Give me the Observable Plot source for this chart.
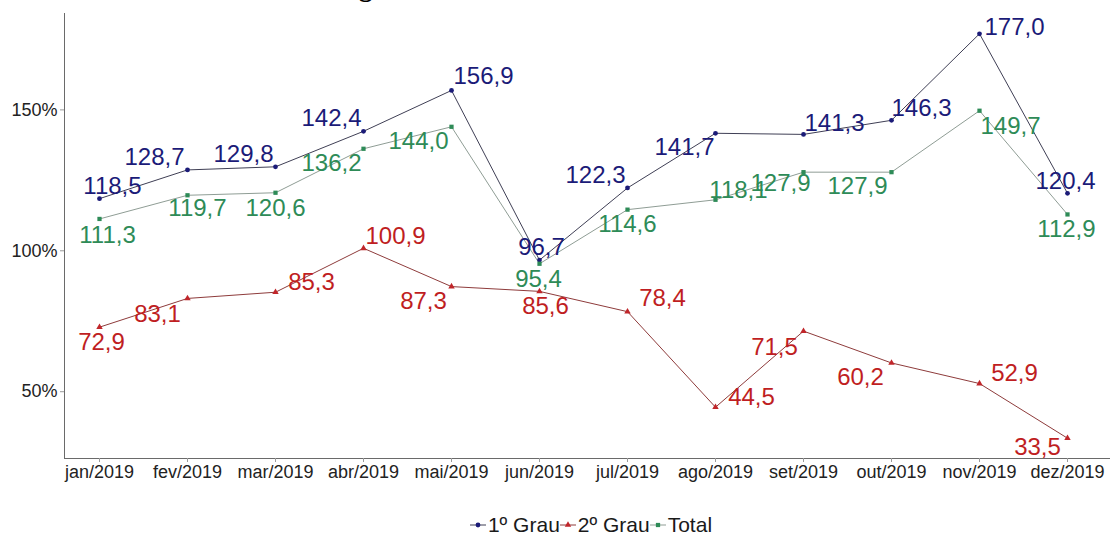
<!DOCTYPE html>
<html>
<head>
<meta charset="utf-8">
<script src="https://cdn.jsdelivr.net/npm/d3@7"></script>
<script src="https://cdn.jsdelivr.net/npm/@observablehq/plot@0.6"></script>
<style>
  html, body { margin: 0; padding: 0; background: #fff; }
  body { width: 1110px; height: 536px; overflow: hidden; position: relative; font-family: "Liberation Sans", Arial, sans-serif; }
  #title { position: absolute; left: 335px; top: -26px; z-index: 2; font: bold 27px/1 "Liberation Serif", "Times New Roman", serif; color: #000; white-space: nowrap; }
  #chart { position: absolute; left: 0; top: 0; }
  #legend { position: absolute; left: 0; top: 488px; width: 1110px; height: 48px; box-sizing: border-box; padding-left: 72px; padding-top: 25px; display: flex; justify-content: center; align-items: center; }
  #legend .item { display: flex; align-items: center; font-size: 21px; color: #1a1a1a; line-height: 22px; }
  #legend svg { display: block; margin-right: 2px; }
  #chart svg [aria-label="y-axis tick"] path, #chart svg [aria-label="x-axis tick"] path { stroke: #9a9a9a; }
  #chart svg [aria-label="frame"] { stroke: #6a6a6a; }
</style>
</head>
<body>
<div id="chart"></div>
<div id="title">Figura 37: Índice de atendimento à demanda</div>
<div id="legend"></div>
<script>
const months = ["jan/2019","fev/2019","mar/2019","abr/2019","mai/2019","jun/2019","jul/2019","ago/2019","set/2019","out/2019","nov/2019","dez/2019"];
const grau1 = [118.5,128.7,129.8,142.4,156.9,96.7,122.3,141.7,141.3,146.3,177.0,120.4];
const grau2 = [72.9,83.1,85.3,100.9,87.3,85.6,78.4,44.5,71.5,60.2,52.9,33.5];
const total = [111.3,119.7,120.6,136.2,144.0,95.4,114.6,118.1,127.9,127.9,149.7,112.9];
const yTicks = [50,100,150];
const seriesNames = ["1º Grau","2º Grau","Total"];

// label placement (dx, baseline offset in px), like a repel layout
const nudge1 = [[13,-4],[-33,-5],[-32,-4],[-32,-5],[32,-6],[2,-5],[-32,-5],[-31,22],[31,-3],[30,-4],[35,2],[-2,-4]];
const nudge2 = [[2,23],[-30,24],[36,-2],[32,-4],[-28,23],[6,23],[35,-5],[36,-2],[-29,24],[-31,22],[35,-2],[-30,17]];
const nudgeT = [[8,24],[10,21],[0,24],[-32,23],[-33,23],[-1,24],[0,23],[23,-1],[-23,19],[-34,22],[31,24],[-1,23]];

const styles = [
  {line: "#3f3f55", fill: "#1b1b78", text: "#1b1b78", symbol: "circle", d3sym: d3.symbolCircle},
  {line: "#8e3b3b", fill: "#c0262a", text: "#bf1e22", symbol: "triangle", d3sym: d3.symbolTriangle},
  {line: "#8f9d95", fill: "#2e8b57", text: "#2e8b57", symbol: "square", d3sym: d3.symbolSquare}
];

const fmt = v => v.toFixed(1).replace(".", ",");
const rows = (vals, s) => months.map((m, i) => ({month: m, value: vals[i], series: s}));
const series = [rows(grau1, seriesNames[0]), rows(grau2, seriesNames[1]), rows(total, seriesNames[2])];
const nudges = [nudge1, nudge2, nudgeT];

const fontSize = 24;
const marks = [];
series.forEach((r, k) => {
  marks.push(Plot.line(r, {x: "month", y: "value", stroke: styles[k].line, strokeWidth: 1}));
});
series.forEach((r, k) => {
  marks.push(Plot.dot(r, {x: "month", y: "value", fill: styles[k].fill, stroke: "none", r: 2.4, symbol: styles[k].symbol}));
});
series.forEach((r, k) => {
  r.forEach((d, i) => {
    marks.push(Plot.text([d], {
      x: "month", y: "value", text: e => fmt(e.value),
      dx: nudges[k][i][0], dy: nudges[k][i][1] - Math.round(0.32 * fontSize),
      fill: styles[k].text, fontSize: fontSize,
      fontFamily: "Liberation Sans, Arial, sans-serif"
    }));
  });
});

const chart = Plot.plot({
  width: 1110,
  height: 488,
  marginLeft: 64,
  marginRight: 0,
  marginTop: 13,
  marginBottom: 30,
  style: {fontFamily: "Liberation Sans, Arial, sans-serif", fontSize: "18px", color: "#222", background: "transparent", overflow: "visible"},
  x: {type: "point", domain: months, padding: 0, insetLeft: 35, insetRight: 43, label: null, tickSize: 4, tickPadding: 3, line: true},
  y: {domain: [26.3, 184.2], ticks: yTicks, tickFormat: d => d + "%", label: null, tickSize: 4, tickPadding: 3, line: true},
  marks
});
document.getElementById("chart").appendChild(chart);

// legend
const legend = d3.select("#legend");
seriesNames.forEach((name, k) => {
  const item = legend.append("div").attr("class", "item");
  const svg = item.append("svg").attr("width", 16).attr("height", 14);
  svg.append("line").attr("x1", 0).attr("x2", 16).attr("y1", 7).attr("y2", 7)
    .attr("stroke", styles[k].line).attr("stroke-width", 1);
  svg.append("path").attr("transform", "translate(8,7)")
    .attr("d", d3.symbol(styles[k].d3sym, 18)()).attr("fill", styles[k].fill);
  item.append("span").text(name);
});
</script>
</body>
</html>
